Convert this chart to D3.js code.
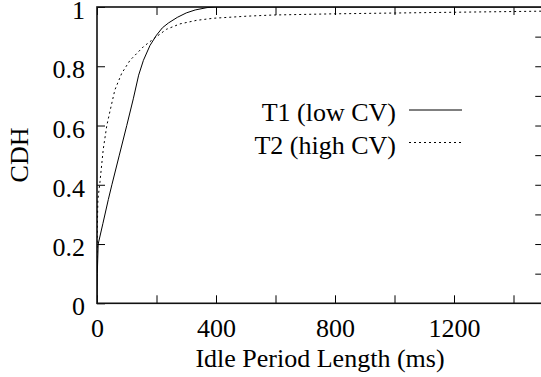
<!DOCTYPE html>
<html>
<head>
<meta charset="utf-8">
<script src="https://cdn.jsdelivr.net/npm/d3@7"></script>
<style>
  body { margin: 0; background: #fff; }
  svg { display: block; }
</style>
</head>
<body>
<div id="chart"></div>
<script>
// idle period length (ms) vs cumulative fraction
const t1Ms  = [0, 1, 4, 20, 38, 50, 75, 100, 122, 140, 156, 178, 200, 220, 240, 270, 300, 330, 370, 400, 1500];
const t1Cdh = [0.02, 0.1, 0.2, 0.27, 0.35, 0.4, 0.5, 0.6, 0.69, 0.77, 0.82, 0.87, 0.905, 0.93, 0.946, 0.965, 0.98, 0.99, 0.998, 1, 1];
const t2Ms  = [0, 1, 3, 10, 21, 33, 44, 60, 83, 111, 156, 200, 234, 279, 335, 391, 503, 593, 800, 1100, 1500];
const t2Cdh = [0.12, 0.25, 0.35, 0.41, 0.52, 0.6, 0.65, 0.72, 0.776, 0.82, 0.866, 0.9, 0.925, 0.943, 0.955, 0.962, 0.969, 0.973, 0.977, 0.981, 0.986];
const seriesNames = ['T1 (low CV)', 'T2 (high CV)'];
const xTicks = [0, 200, 400, 600, 800, 1000, 1200, 1400];
const yTicksLeft = [0, 0.2, 0.4, 0.6, 0.8, 1];
const yTicksRight = [0.1, 0.2, 0.3, 0.4, 0.5, 0.6, 0.7, 0.8, 0.9];

const FONT = "'Times New Roman', Times, Tinos, 'Liberation Serif', 'Nimbus Roman', 'Noto Serif', 'DejaVu Serif', serif";

const width = 541, height = 377;
const margin = { top: 7, left: 97 };
const innerWidth = 446.25;   // plot runs past the right edge of the picture
const innerHeight = 296.3;

const svg = d3.select('#chart').append('svg')
  .attr('width', width)
  .attr('height', height)
  .style('font-family', FONT);

const xScale = d3.scaleLinear().domain([0, 1500]).range([0, innerWidth]);
const yScale = d3.scaleLinear().domain([0, 1]).range([innerHeight, 0]);

const g = svg.append('g')
  .attr('transform', `translate(${margin.left},${margin.top})`);

g.append('clipPath').attr('id', 'clip')
  .append('rect').attr('width', innerWidth).attr('height', innerHeight);

// axes, ticks inward like gnuplot
const xAxisG = g.append('g')
  .attr('transform', `translate(0,${innerHeight})`)
  .call(d3.axisBottom(xScale).tickValues(xTicks).tickSize(-8)
    .tickFormat(d => d % 400 === 0 ? d : ''));
xAxisG.selectAll('text').attr('y', 34).attr('dy', null);

const topAxisG = g.append('g')
  .call(d3.axisTop(xScale).tickValues(xTicks).tickSize(-8).tickFormat(''));

const yAxisG = g.append('g')
  .call(d3.axisLeft(yScale).tickValues(yTicksLeft).tickSize(-8)
    .tickFormat(d => d));
yAxisG.selectAll('text').attr('x', -12).attr('dy', 11.5);

const rightAxisG = g.append('g')
  .attr('transform', `translate(${innerWidth},0)`)
  .call(d3.axisRight(yScale).tickValues(yTicksRight).tickSize(-8).tickFormat(''));

[xAxisG, topAxisG, yAxisG, rightAxisG].forEach(a => {
  a.attr('font-family', null).attr('font-size', null);
  a.select('.domain').remove();
  a.selectAll('line').attr('stroke', '#000').attr('stroke-width', 1);
  a.selectAll('text')
    .filter(function() { return this.textContent === ''; })
    .remove();
  a.selectAll('text')
    .style('font-family', FONT)
    .style('font-size', '26px')
    .attr('fill', '#000');
});

g.append('rect')
  .attr('width', innerWidth)
  .attr('height', innerHeight)
  .attr('fill', 'none')
  .attr('stroke', '#111')
  .attr('stroke-width', 1.6);

// curves
const line = d3.line()
  .x(d => xScale(d[0]))
  .y(d => yScale(d[1]));

const t1 = t1Ms.map((m, i) => [m, t1Cdh[i]]);
const t2 = t2Ms.map((m, i) => [m, t2Cdh[i]]);

g.append('path').datum(t2)
  .attr('clip-path', 'url(#clip)')
  .attr('fill', 'none')
  .attr('stroke', '#000')
  .attr('stroke-width', 1)
  .attr('stroke-dasharray', '2,3')
  .attr('d', line);

g.append('path').datum(t1)
  .attr('clip-path', 'url(#clip)')
  .attr('fill', 'none')
  .attr('stroke', '#000')
  .attr('stroke-width', 1)
  .attr('d', line);

// legend
const legend = svg.append('g');
[0, 1].forEach(i => {
  const y = 110 + i * 32.5;
  legend.append('text')
    .attr('x', 396)
    .attr('y', y + 11)
    .attr('text-anchor', 'end')
    .style('font-family', FONT)
    .style('font-size', '26px')
    .text(seriesNames[i]);
  legend.append('line')
    .attr('x1', 409).attr('x2', 462)
    .attr('y1', y).attr('y2', y)
    .attr('stroke', '#000')
    .attr('stroke-width', 1)
    .attr('stroke-dasharray', i === 1 ? '2,3' : null);
});

// axis titles
svg.append('text')
  .attr('x', margin.left + 223)
  .attr('y', 367)
  .attr('text-anchor', 'middle')
  .style('font-family', FONT)
  .style('font-size', '26px')
  .text('Idle Period Length (ms)');

svg.append('text')
  .attr('transform', 'translate(27.5,155) rotate(-90)')
  .attr('text-anchor', 'middle')
  .style('font-family', FONT)
  .style('font-size', '26px')
  .text('CDH');
</script>
</body>
</html>
